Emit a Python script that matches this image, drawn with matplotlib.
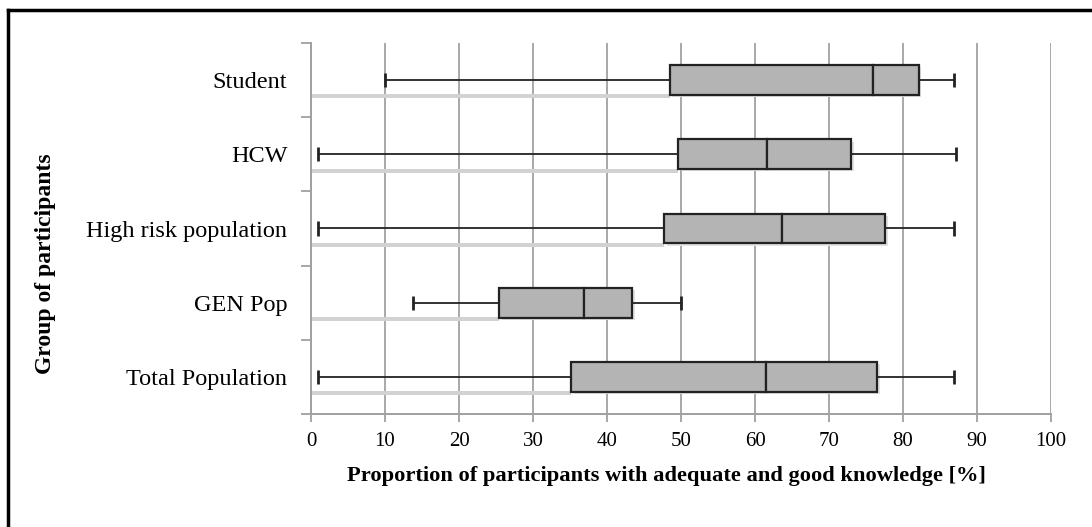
import matplotlib.pyplot as plt
import numpy as np

# groups, bottom to top
groups = ["Total Population", "GEN Pop", "High risk population", "HCW", "Student"]
mins = [1, 13.8, 1, 1, 10]
q1 = [35.2, 25.4, 47.7, 49.6, 48.5]
medians = [61.5, 36.9, 63.6, 61.6, 75.9]
q3 = [76.5, 43.4, 77.6, 73.0, 82.1]
maxs = [86.9, 50.0, 86.9, 87.2, 86.9]

plt.rcParams['font.family'] = ['Liberation Serif', 'DejaVu Serif']

fig = plt.figure(figsize=(10.92, 5.27), dpi=100)
ax = fig.add_axes([311/1092, 1 - 414/527, 740/1092, 371/527])

pos = np.arange(len(groups))
h = 0.4
boxcol = '#b4b4b4'
edge = '#222222'

mins = np.array(mins); q1 = np.array(q1); medians = np.array(medians)
q3 = np.array(q3); maxs = np.array(maxs)

# soft shadow under the (invisible) base segment and behind the boxes
ax.barh(pos - h/2 - 0.02, q1, height=0.055, left=0, color='#d2d2d2', zorder=1)
ax.barh(pos - 0.03, q3 - q1, height=h, left=q1 + 0.35, color='#e2e2e2', zorder=1)

# whiskers with end caps
ax.hlines(pos, mins, q1, color=edge, linewidth=1.3, zorder=3)
ax.hlines(pos, q3, maxs, color=edge, linewidth=1.3, zorder=3)
ax.vlines(mins, pos - 0.095, pos + 0.095, color=edge, linewidth=2, zorder=3)
ax.vlines(maxs, pos - 0.095, pos + 0.095, color=edge, linewidth=2, zorder=3)

# boxes: Q1 -> median, median -> Q3
ax.barh(pos, medians - q1, height=h, left=q1, color=boxcol, edgecolor=edge,
        linewidth=1.6, zorder=4)
ax.barh(pos, q3 - medians, height=h, left=medians, color=boxcol, edgecolor=edge,
        linewidth=1.6, zorder=4)

ax.set_xlim(0, 100)
ax.set_ylim(-0.5, len(groups) - 0.5)
ax.set_xticks(np.arange(0, 101, 10))
ax.set_yticks(pos)
ax.set_yticklabels(groups, fontsize=17.5)
ax.set_yticks(np.arange(-0.5, len(groups), 1), minor=True)
ax.tick_params(axis='y', which='major', length=0, pad=17)
ax.tick_params(axis='y', which='minor', length=7, width=1.3, color='#a0a0a0')
ax.tick_params(axis='x', length=6, width=1.3, color='#a0a0a0', labelsize=15, pad=7)

ax.grid(axis='x', color='#a8a8a8', linewidth=1.4, zorder=0)
ax.set_axisbelow(True)
for s in ['top', 'right']:
    ax.spines[s].set_visible(False)
for s in ['left', 'bottom']:
    ax.spines[s].set_color('#a0a0a0')
    ax.spines[s].set_linewidth(1.4)

ax.set_xlabel("Proportion of participants with adequate and good knowledge [%]",
              fontsize=16.2, fontweight='bold')
ax.xaxis.set_label_coords(666/1092, 1 - 476/527, transform=fig.transFigure)
ax.xaxis.label.set_va('center')
ax.set_ylabel("Group of participants", fontsize=17, fontweight='bold')
ax.yaxis.set_label_coords(56/1092, 0.5, transform=fig.transFigure)

# frame around the figure (top and left edges)
fig.add_artist(plt.Line2D([8/1092, 1], [1 - 10/527, 1 - 10/527], color='black',
                          linewidth=2.5, transform=fig.transFigure))
fig.add_artist(plt.Line2D([8/1092, 8/1092], [0, 1 - 10/527], color='black',
                          linewidth=2.5, transform=fig.transFigure))

fig.savefig("out.png", dpi=100)
